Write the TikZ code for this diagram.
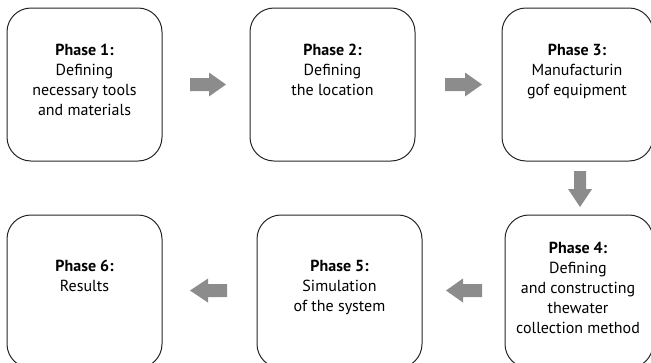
\documentclass[tikz,border=0pt]{standalone}
\usepackage{fontspec}
\setmainfont{PT Sans}
\begin{document}
\begin{tikzpicture}[x=1pt,y=-1pt,
  phasebox/.style={draw=black!85, line width=1pt, rounded corners=24pt, inner sep=0pt},
  phasetext/.style={anchor=north, inner sep=0pt, align=center, font=\fontsize{16}{20}\selectfont},
  flowarrow/.style={fill=black!45, draw=none}]
\useasboundingbox (0,0) rectangle (651,362);
\begin{scope}
\clip (0,0) rectangle (651,362);
\node[phasebox, minimum width=155pt, minimum height=153pt] (p1) at (84.5,84.5) {};
\node[phasebox, minimum width=165pt, minimum height=153pt] (p2) at (332.5,84.5) {};
\node[phasebox, minimum width=151pt, minimum height=153pt] (p3) at (577.5,84.5) {};
\node[phasebox, minimum width=148pt, minimum height=153pt] (p4) at (579,291.5) {};
\node[phasebox, minimum width=165pt, minimum height=153pt] (p5) at (339.5,291.5) {};
\node[phasebox, minimum width=155pt, minimum height=153pt] (p6) at (84.5,291.5) {};
\end{scope}
\node[phasetext] (t1) at (84.5,44) {\textbf{Phase 1:}\\Defining\\necessary tools\\and materials};
\node[phasetext] (t2) at (332.5,44) {\textbf{Phase 2:}\\Defining\\the location};
\node[phasetext] (t3) at (577,44) {\textbf{Phase 3:}\\Manufacturin\\gof equipment};
\node[phasetext] (t4) at (578,242) {\textbf{Phase 4:}\\Defining\\and constructing\\thewater\\collection method};
\node[phasetext] (t5) at (339.5,260) {\textbf{Phase 5:}\\Simulation\\of the system};
\node[phasetext] (t6) at (84.5,260) {\textbf{Phase 6:}\\Results};
% arrows
\fill[flowarrow] (190,78) -- (209,78) -- (209,72.5) -- (226,84.5) -- (209,96.5) -- (209,91) -- (190,91) -- cycle;
\fill[flowarrow] (445,78) -- (465,78) -- (465,72.5) -- (482,84.5) -- (465,96.5) -- (465,91) -- (445,91) -- cycle;
\fill[flowarrow] (574,171) -- (586,171) -- (586,189) -- (592,189) -- (580,207) -- (568,189) -- (574,189) -- cycle;
\fill[flowarrow] (482,284) -- (463,284) -- (463,278.5) -- (446,290.5) -- (463,302.5) -- (463,297) -- (482,297) -- cycle;
\fill[flowarrow] (227,284) -- (208,284) -- (208,278.5) -- (190,290.5) -- (208,302.5) -- (208,297) -- (227,297) -- cycle;
\end{tikzpicture}
\end{document}
